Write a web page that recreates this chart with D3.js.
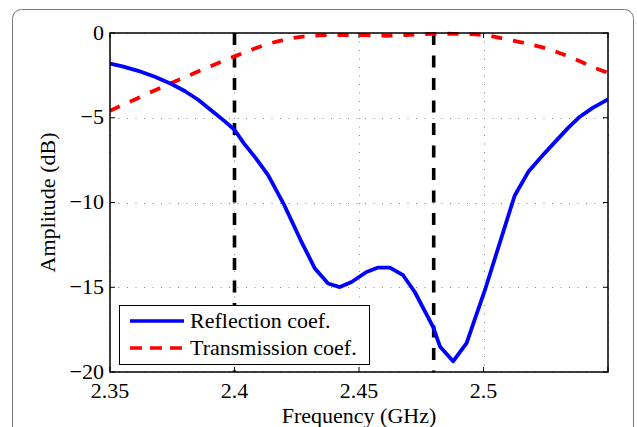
<!DOCTYPE html>
<html><head><meta charset="utf-8">
<script src="https://cdn.jsdelivr.net/npm/d3@7"></script>
<style>html,body{margin:0;padding:0;background:#fff;overflow:hidden}
text{font-family:"Liberation Serif","Times New Roman","DejaVu Serif",serif;font-size:22px}</style>
</head><body>
<svg id="chart" width="637" height="427"></svg>
<script>
const reflectionFreq = [2.35,2.355,2.3613,2.368,2.3747,2.38,2.3854,2.3921,2.396,2.4,2.4037,2.4086,2.4135,2.42,2.4265,2.4323,2.4376,2.4423,2.447,2.453,2.4577,2.4624,2.4677,2.4724,2.4798,2.4825,2.4878,2.4932,2.5008,2.5125,2.518,2.5245,2.5294,2.534,2.5387,2.544,2.55];
const reflectionDb   = [-1.8,-1.97,-2.23,-2.58,-3.01,-3.42,-3.94,-4.73,-5.2,-5.71,-6.5,-7.4,-8.39,-10.16,-12.2,-13.9,-14.78,-14.99,-14.69,-14.1,-13.84,-13.84,-14.29,-15.28,-17.35,-18.49,-19.37,-18.29,-15.06,-9.6,-8.19,-7.1,-6.32,-5.6,-4.94,-4.4,-3.92];
const transmissionFreq = [2.35,2.3747,2.4,2.4148,2.4282,2.445,2.4624,2.48,2.5,2.5105,2.5198,2.528,2.536,2.5454,2.55];
const transmissionDb   = [-4.59,-2.95,-1.38,-0.59,-0.2,-0.12,-0.16,-0.05,-0.12,-0.41,-0.71,-1.04,-1.5,-2.09,-2.35];
const markerFreqs = [2.4, 2.48];
const xTicks = [2.35, 2.4, 2.45, 2.5, 2.55];
const xTickLabels = ["2.35","2.4","2.45","2.5",""];
const yTicks = [0,-5,-10,-15,-20];
const yTickLabels = ["0","\u22125","\u221210","\u221215","\u221220"];
const seriesNames = ["Reflection coef.","Transmission coef."];

const svg = d3.select("#chart");
const L=110, R=608, T=33, B=372;
const x = d3.scaleLinear().domain([2.35,2.55]).range([L,R]);
const y = d3.scaleLinear().domain([-20,0]).range([B,T]);

svg.append("rect").attr("x",12.5).attr("y",9.5).attr("width",621).attr("height",440)
  .attr("rx",9).attr("fill","none").attr("stroke","#7a7a7a").attr("stroke-width",1);

const grid = svg.append("g").attr("stroke","#8a8a8a").attr("stroke-width",1).attr("stroke-dasharray","1,7.5");
xTicks.forEach(v=>grid.append("line").attr("x1",Math.round(x(v))+0.5).attr("x2",Math.round(x(v))+0.5).attr("y1",T).attr("y2",B));
yTicks.forEach(v=>grid.append("line").attr("y1",Math.round(y(v))+0.5).attr("y2",Math.round(y(v))+0.5).attr("x1",L).attr("x2",R));

svg.append("g").selectAll("line").data(markerFreqs).join("line")
  .attr("x1",d=>x(d)).attr("x2",d=>x(d)).attr("y1",T).attr("y2",B)
  .attr("stroke","#000").attr("stroke-width",3.6).attr("stroke-dasharray","12,10.5");

svg.append("clipPath").attr("id","pc").append("rect").attr("x",L).attr("y",T-3).attr("width",R-L).attr("height",B-T+6);
const line = d3.line().x(d=>x(d[0])).y(d=>y(d[1]));
const tData = transmissionFreq.map((f,i)=>[f,transmissionDb[i]]);
const rData = reflectionFreq.map((f,i)=>[f,reflectionDb[i]]);
svg.append("path").attr("clip-path","url(#pc)").attr("d",line.curve(d3.curveCatmullRom)(tData)).attr("fill","none")
  .attr("stroke","#ff0000").attr("stroke-width",3.8).attr("stroke-dasharray","11,11");
svg.append("path").attr("clip-path","url(#pc)").attr("d",line.curve(d3.curveLinear)(rData)).attr("fill","none")
  .attr("stroke","#0000ff").attr("stroke-width",3.8).attr("stroke-linejoin","round");

svg.append("rect").attr("x",L).attr("y",T).attr("width",R-L).attr("height",B-T)
  .attr("fill","none").attr("stroke","#000").attr("stroke-width",1.5);

const tk = svg.append("g").attr("stroke","#000").attr("stroke-width",1);
xTicks.forEach(v=>{
  tk.append("line").attr("x1",x(v)).attr("x2",x(v)).attr("y1",B).attr("y2",B-5);
  tk.append("line").attr("x1",x(v)).attr("x2",x(v)).attr("y1",T).attr("y2",T+5);
});
yTicks.forEach(v=>{
  tk.append("line").attr("y1",y(v)).attr("y2",y(v)).attr("x1",L).attr("x2",L+5);
  tk.append("line").attr("y1",y(v)).attr("y2",y(v)).attr("x1",R).attr("x2",R-5);
});

svg.append("g").selectAll("text").data(xTicks).join("text")
  .attr("x",d=>x(d)).attr("y",398).attr("text-anchor","middle")
  .text((d,i)=>xTickLabels[i]);
svg.append("g").selectAll("text").data(yTicks).join("text")
  .attr("x",104).attr("y",d=>y(d)).attr("dy","0.3em").attr("text-anchor","end")
  .text((d,i)=>yTickLabels[i]);

svg.append("text").attr("x",(L+R)/2).attr("y",423).attr("text-anchor","middle").text("Frequency (GHz)");
svg.append("text").attr("transform",`translate(55,${(T+B)/2}) rotate(-90)`).attr("text-anchor","middle").text("Amplitude (dB)");

const lg = svg.append("g");
lg.append("rect").attr("x",119.5).attr("y",305.5).attr("width",250).attr("height",59)
  .attr("fill","#fff").attr("stroke","#000").attr("stroke-width",1);
const legendStyles = [{c:"#0000ff",d:null},{c:"#ff0000",d:"12,8"}];
seriesNames.forEach((n,i)=>{
  const yy = 321 + i*27;
  const l = lg.append("line").attr("x1",130).attr("x2",184).attr("y1",yy).attr("y2",yy)
    .attr("stroke",legendStyles[i].c).attr("stroke-width",3.5);
  if(legendStyles[i].d) l.attr("stroke-dasharray",legendStyles[i].d);
  lg.append("text").attr("x",190).attr("y",yy+7).text(n);
});
</script>
</body></html>
